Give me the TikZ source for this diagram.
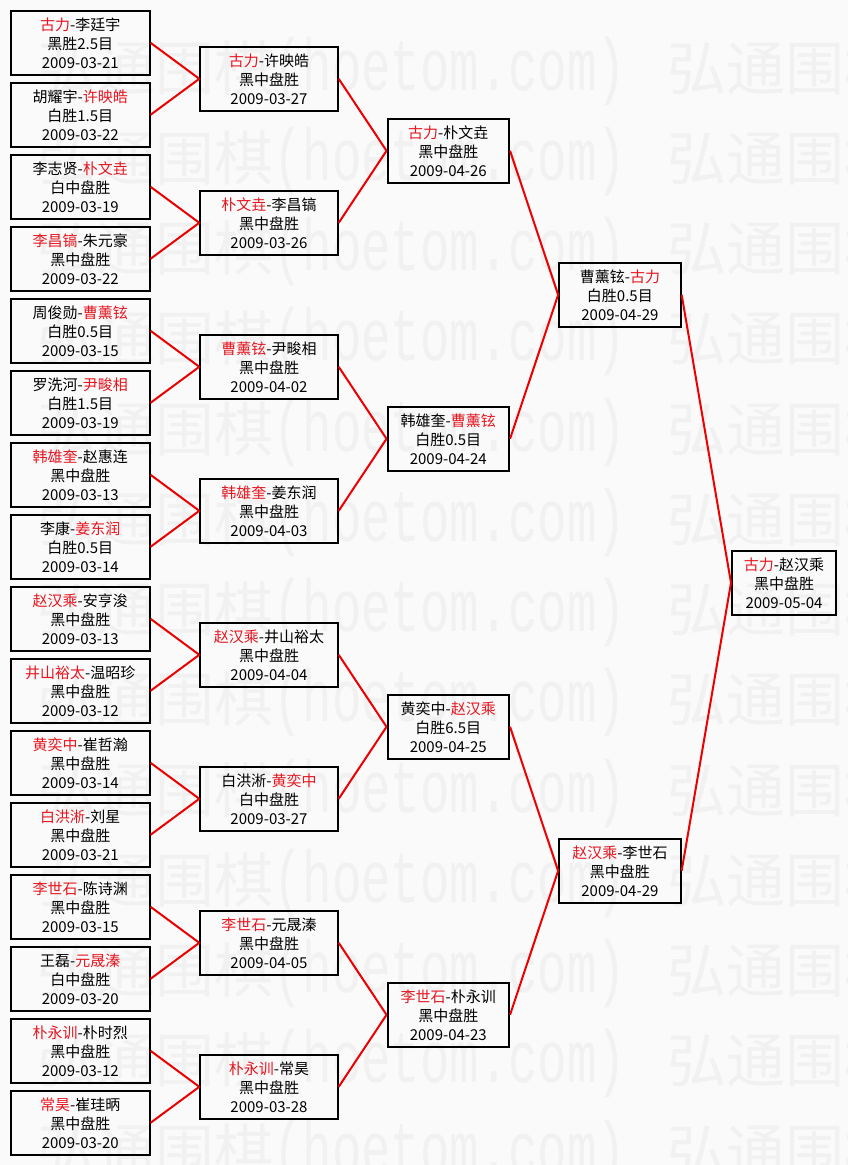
\documentclass[tikz,border=0pt]{standalone}
\usepackage{fontspec}
\usepackage{graphicx}
\newfontfamily\cjk{Noto Sans CJK SC}
\newfontfamily\wmmono{Liberation Mono}
\definecolor{bgc}{RGB}{250,250,250}
\definecolor{wmc}{RGB}{241,241,241}
\definecolor{namered}{RGB}{230,22,32}
\definecolor{linered}{RGB}{236,0,0}
\newcommand\rn[1]{\textcolor{namered}{#1}}
\begin{document}
\begin{tikzpicture}[x=1pt,y=-1pt,
  game/.style={draw=black, line width=2pt, inner sep=0pt, minimum height=63.7pt,
    align=center, font=\cjk\fontsize{15}{19}\selectfont},
  wa/.style={game, minimum width=138.5pt},
  wb/.style={game, minimum width=137.4pt},
  wc/.style={game, minimum width=121.5pt},
  wd/.style={game, minimum width=104pt},
  link/.style={draw=linered, line width=2pt},
  wm/.style={text=wmc, inner sep=0pt, anchor=base west, font=\cjk\fontsize{59}{59}\selectfont},
  wmm/.style={text=wmc, inner sep=0pt, anchor=base west, font=\wmmono\fontsize{49}{49}\selectfont}
]
\fill[bgc] (0,0) rectangle (848,1165);
\useasboundingbox (0,0) rectangle (848,1165);
\begin{scope}
\clip (0,0) rectangle (848,1165);
\foreach \k in {0,...,12}{
  \pgfmathsetmacro\yy{90+90.25*\k}
  \node[wm] (wma\k) at (37,\yy) {弘通围棋};
  \node[wmm] (wmb\k) at (273,\yy) {\scalebox{1}[1.5]{(hoetom.com)}};
  \node[wm] (wmc\k) at (667,\yy) {弘通围棋};
}
\end{scope}

% round 1
\node[wa] (a1)  at (80.3,42.8)   {\rn{古力}-李廷宇\\黑胜2.5目\\2009-03-21};
\node[wa] (a2)  at (80.3,114.8)  {胡耀宇-\rn{许映皓}\\白胜1.5目\\2009-03-22};
\node[wa] (a3)  at (80.3,186.8)  {李志贤-\rn{朴文垚}\\白中盘胜\\2009-03-19};
\node[wa] (a4)  at (80.3,258.8)  {\rn{李昌镐}-朱元豪\\黑中盘胜\\2009-03-22};
\node[wa] (a5)  at (80.3,330.8)  {周俊勋-\rn{曹薰铉}\\白胜0.5目\\2009-03-15};
\node[wa] (a6)  at (80.3,402.8)  {罗洗河-\rn{尹畯相}\\白胜1.5目\\2009-03-19};
\node[wa] (a7)  at (80.3,474.8)  {\rn{韩雄奎}-赵惠连\\黑中盘胜\\2009-03-13};
\node[wa] (a8)  at (80.3,546.8)  {李康-\rn{姜东润}\\白胜0.5目\\2009-03-14};
\node[wa] (a9)  at (80.3,618.8)  {\rn{赵汉乘}-安亨浚\\黑中盘胜\\2009-03-13};
\node[wa] (a10) at (80.3,690.8)  {\rn{井山裕太}-温昭珍\\黑中盘胜\\2009-03-12};
\node[wa] (a11) at (80.3,762.8)  {\rn{黄奕中}-崔哲瀚\\黑中盘胜\\2009-03-14};
\node[wa] (a12) at (80.3,834.8)  {\rn{白洪淅}-刘星\\黑中盘胜\\2009-03-21};
\node[wa] (a13) at (80.3,906.8)  {\rn{李世石}-陈诗渊\\黑中盘胜\\2009-03-15};
\node[wa] (a14) at (80.3,978.8)  {王磊-\rn{元晟溱}\\白中盘胜\\2009-03-20};
\node[wa] (a15) at (80.3,1050.8) {\rn{朴永训}-朴时烈\\黑中盘胜\\2009-03-12};
\node[wa] (a16) at (80.3,1122.8) {\rn{常昊}-崔珪昞\\黑中盘胜\\2009-03-20};

% round 2
\node[wb] (b1) at (269,78.8)    {\rn{古力}-许映皓\\黑中盘胜\\2009-03-27};
\node[wb] (b2) at (269,222.8)   {\rn{朴文垚}-李昌镐\\黑中盘胜\\2009-03-26};
\node[wb] (b3) at (269,366.8)   {\rn{曹薰铉}-尹畯相\\黑中盘胜\\2009-04-02};
\node[wb] (b4) at (269,510.8)   {\rn{韩雄奎}-姜东润\\黑中盘胜\\2009-04-03};
\node[wb] (b5) at (269,654.8)   {\rn{赵汉乘}-井山裕太\\黑中盘胜\\2009-04-04};
\node[wb] (b6) at (269,798.8)   {白洪淅-\rn{黄奕中}\\白中盘胜\\2009-03-27};
\node[wb] (b7) at (269,942.8)   {\rn{李世石}-元晟溱\\黑中盘胜\\2009-04-05};
\node[wb] (b8) at (269,1086.8)  {\rn{朴永训}-常昊\\黑中盘胜\\2009-03-28};

% round 3
\node[wc] (c1) at (448.3,150.8) {\rn{古力}-朴文垚\\黑中盘胜\\2009-04-26};
\node[wc] (c2) at (448.3,438.8) {韩雄奎-\rn{曹薰铉}\\白胜0.5目\\2009-04-24};
\node[wc] (c3) at (448.3,726.8) {黄奕中-\rn{赵汉乘}\\白胜6.5目\\2009-04-25};
\node[wc] (c4) at (448.3,1014.8){\rn{李世石}-朴永训\\黑中盘胜\\2009-04-23};

% round 4
\node[wc] (d1) at (619.9,294.8) {曹薰铉-\rn{古力}\\白胜0.5目\\2009-04-29};
\node[wc] (d2) at (619.9,870.8) {\rn{赵汉乘}-李世石\\黑中盘胜\\2009-04-29};

% final
\node[wd] (e1) at (784,582.8) {\rn{古力}-赵汉乘\\黑中盘胜\\2009-05-04};

% connectors
\foreach \i/\j in {1/1,2/1,3/2,4/2,5/3,6/3,7/4,8/4,9/5,10/5,11/6,12/6,13/7,14/7,15/8,16/8}
  \draw[link] (a\i.east) -- (b\j.west);
\foreach \i/\j in {1/1,2/1,3/2,4/2,5/3,6/3,7/4,8/4}
  \draw[link] (b\i.east) -- (c\j.west);
\foreach \i/\j in {1/1,2/1,3/2,4/2}
  \draw[link] (c\i.east) -- (d\j.west);
\draw[link] (d1.east) -- (e1.west);
\draw[link] (d2.east) -- (e1.west);
\end{tikzpicture}
\end{document}
